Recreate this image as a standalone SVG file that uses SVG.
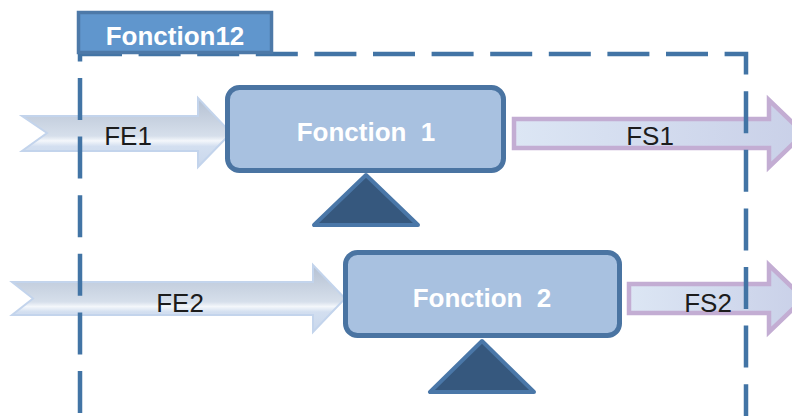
<svg xmlns="http://www.w3.org/2000/svg" width="792" height="416" viewBox="0 0 792 416">
<defs>
<linearGradient id="gIn" x1="0" y1="0" x2="0" y2="1">
<stop offset="0" stop-color="#b4c0d2"/>
<stop offset="0.55" stop-color="#d6dfeb"/>
<stop offset="0.62" stop-color="#f4f7fb"/>
<stop offset="0.7" stop-color="#d3dff0"/>
<stop offset="1" stop-color="#c9d7ec"/>
</linearGradient>
<linearGradient id="gOut" x1="0" y1="0" x2="1" y2="0">
<stop offset="0" stop-color="#dce6f4"/>
<stop offset="1" stop-color="#c9d0e8"/>
</linearGradient>
<style>
.in{fill:url(#gIn);stroke:#c3d4ec;stroke-width:2;stroke-linejoin:miter}
.out{fill:url(#gOut);stroke:#c3add3;stroke-width:4.5;stroke-linejoin:miter}
.lbl{font-family:"Liberation Sans",Arial,sans-serif;font-size:26px;fill:#1c1c1c;text-anchor:middle}
.box{fill:#a8c1e0;stroke:#4a74a2;stroke-width:5}
.btxt{font-family:"Liberation Sans",Arial,sans-serif;font-weight:bold;font-size:26px;fill:#ffffff;text-anchor:middle}
.tri{fill:#36587e;stroke:#4a77a8;stroke-width:4;stroke-linejoin:round}
.dash{fill:none;stroke:#4274a5;stroke-width:4.5;stroke-dasharray:42 16.6}
</style>
</defs>

<g id="connectors">
<g id="FE1">
<polygon class="in" points="22,116 198,116 198,98 231,133 198,167 198,151 22,151 47,133"/>
<text class="lbl" x="128" y="145">FE1</text>
</g>
<g id="FS1">
<polygon class="out" points="514,119 769,119 769,100 804,133.5 769,167 769,148 514,148"/>
<text class="lbl" x="650" y="145">FS1</text>
</g>
<g id="FE2">
<polygon class="in" points="12,282 313,282 313,265 345,298.5 313,332 313,315 12,315 33,298.5"/>
<text class="lbl" x="180" y="312">FE2</text>
</g>
<g id="FS2">
<polygon class="out" points="629,284 769,284 769,265 804,298.5 769,332 769,313 629,313"/>
<text class="lbl" x="708" y="312">FS2</text>
</g>
</g>

<g id="frame">
<path class="dash" d="M80,54 H746 V416"/>
<path class="dash" d="M80,19.4 V416"/>
</g>

<g id="title">
<rect x="78.5" y="12.5" width="193" height="40" fill="#6096cd" stroke="#4d79a8" stroke-width="3.5"/>
<text class="btxt" x="175" y="45">Fonction12</text>
</g>

<g id="fonction1">
<rect class="box" x="227.5" y="87.5" width="276" height="83" rx="12"/>
<text class="btxt" x="366" y="141" xml:space="preserve">Fonction  1</text>
<polygon class="tri" points="366,175 314,225 418,225"/>
</g>

<g id="fonction2">
<rect class="box" x="345.5" y="252.5" width="274" height="83" rx="12"/>
<text class="btxt" x="482" y="307" xml:space="preserve">Fonction  2</text>
<polygon class="tri" points="482,341 430,392 534,392"/>
</g>
</svg>
